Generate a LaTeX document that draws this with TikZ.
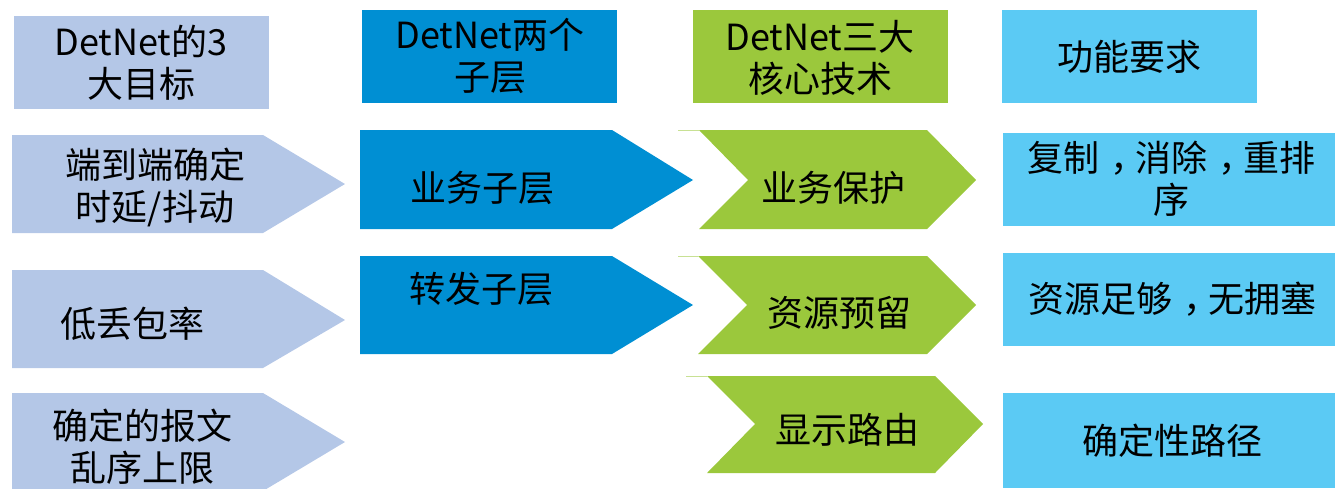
\documentclass[tikz,border=0pt]{standalone}
\usepackage{fontspec}
\setmainfont{Noto Sans CJK SC}
\definecolor{cA}{HTML}{B4C7E7}
\definecolor{cB}{HTML}{008FD3}
\definecolor{cC}{HTML}{9BC83C}
\definecolor{cD}{HTML}{5BCAF4}
\newcommand{\zcomma}{\hspace{0.33em}\makebox[0.67em][l]{，}}
\begin{document}
\begin{tikzpicture}[x=1pt,y=-1pt,
  lbl/.style={font=\fontsize{36}{42}\selectfont, align=center, text=black, inner sep=0pt},
  edgeline/.style={draw=cC!55, line width=1pt}]
\useasboundingbox (0,0) rectangle (1335,488);
% column 1
\fill[cA] (14,16) rectangle (269,109);
\fill[cA] (12,135) -- (263,135) -- (345,184) -- (263,233) -- (12,233) -- cycle;
\fill[cA] (12,270) -- (263,270) -- (345,320) -- (263,368) -- (12,368) -- cycle;
\fill[cA] (12,393) -- (263,393) -- (345,442) -- (263,491) -- (12,491) -- cycle;
% column 2
\fill[cB] (362,10) rectangle (617,103);
\fill[cB] (360,130) -- (612,130) -- (693,180) -- (612,229) -- (360,229) -- cycle;
\fill[cB] (360,256) -- (612,256) -- (693,305) -- (612,354) -- (360,354) -- cycle;
% column 3
\fill[cC] (693,10) rectangle (948,103);
\fill[cC] (699,130) -- (927,130) -- (976,180) -- (927,229) -- (699,229) -- (748,180) -- cycle;
\fill[cC] (698,256) -- (927,256) -- (976,305) -- (927,354) -- (698,354) -- (747,305) -- cycle;
\fill[cC] (707,376) -- (935,376) -- (983,424) -- (935,473) -- (707,473) -- (755,424) -- cycle;
\path[edgeline] (678,130.5) -- (699,130.5);
\path[edgeline] (678,256.5) -- (698,256.5);
\path[edgeline] (686,376.5) -- (707,376.5);
% column 4
\fill[cD] (1002,10) rectangle (1257,103);
\fill[cD] (1003,133) rectangle (1335,226);
\fill[cD] (1003,253) rectangle (1335,346);
\fill[cD] (1003,393) rectangle (1335,488);
% texts
\node[lbl] (h1) at (141,63) {DetNet的3\\大目标};
\node[lbl] (g1) at (155,187) {端到端确定\\时延/抖动};
\node[lbl] (g2) at (132,324) {低丢包率};
\node[lbl] (g3) at (142,447) {确定的报文\\乱序上限};
\node[lbl] (h2) at (490,56) {DetNet两个\\子层};
\node[lbl] (s1) at (482,188) {业务子层};
\node[lbl] (s2) at (481,289) {转发子层};
\node[lbl] (h3) at (820,58) {DetNet三大\\核心技术};
\node[lbl] (t1) at (833,188) {业务保护};
\node[lbl] (t2) at (839,313) {资源预留};
\node[lbl] (t3) at (847,430) {显示路由};
\node[lbl] (h4) at (1129,57) {功能要求};
\node[lbl] (r1) at (1171,179) {复制\zcomma 消除\zcomma 重排\\序};
\node[lbl] (r2) at (1172,299) {资源足够\zcomma 无拥塞};
\node[lbl] (r3) at (1172,441) {确定性路径};
\end{tikzpicture}
\end{document}
